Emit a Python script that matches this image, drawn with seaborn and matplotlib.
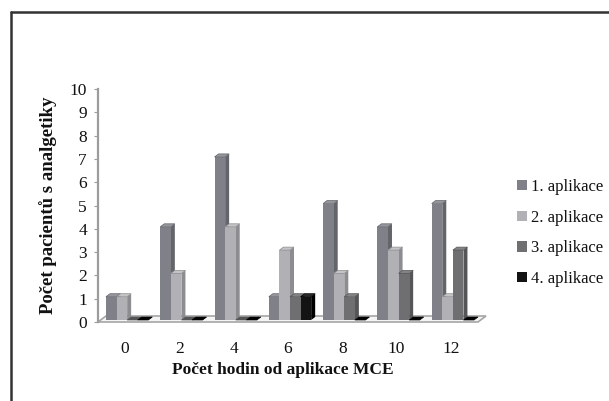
import numpy as np
import pandas as pd
import seaborn as sns
import matplotlib.pyplot as plt
from matplotlib.patches import Polygon, Patch
from matplotlib.lines import Line2D

hours = ['0', '2', '4', '6', '8', '10', '12']
series_names = ['1. aplikace', '2. aplikace', '3. aplikace', '4. aplikace']
app1 = [1, 4, 7, 1, 5, 4, 5]
app2 = [1, 2, 4, 3, 2, 3, 1]
app3 = [0, 0, 0, 1, 1, 2, 3]
app4 = [0, 0, 0, 1, 0, 0, 0]

front_colors = ['#808188', '#b1b1b5', '#6f6f72', '#131313']
side_colors = ['#64656b', '#8d8d91', '#555557', '#000000']
top_colors = ['#95969c', '#c4c4c7', '#838386', '#2a2a2a']

df = pd.DataFrame({
    'hodiny': hours * 4,
    'serie': np.repeat(series_names, len(hours)),
    'pocet': app1 + app2 + app3 + app4,
})

sns.set_theme(style='white')
plt.rcParams['font.family'] = ['Liberation Serif', 'DejaVu Serif']

fig = plt.figure(figsize=(6.09, 4.01), dpi=100)
ax = fig.add_axes([98 / 609, 1 - 322 / 401, 380 / 609, 233 / 401])

sns.barplot(data=df, x='hodiny', y='pocet', hue='serie', order=hours,
            hue_order=series_names, palette=front_colors, saturation=1,
            width=0.78, gap=0, legend=False, ax=ax, linewidth=0)

ax.set_xlim(-0.5, 6.5)
ax.set_ylim(0, 10)
ax.set_yticks(range(0, 11))

# pixel -> data units
p0 = ax.transData.transform((0, 0))
p1 = ax.transData.transform((1, 1))
ux = 1 / (p1[0] - p0[0])
uy = 1 / (p1[1] - p0[1])

# floor of the 3D chart
fdx, fdy = 8 * ux, 6 * uy
floor = Polygon([(-0.5, 0), (6.5, 0), (6.5 + fdx, fdy), (-0.5 + fdx, fdy)],
                closed=True, facecolor='#f4f4f4', edgecolor='#a5a5a5',
                linewidth=1.2, zorder=1, clip_on=False)
ax.add_patch(floor)

# 3D faces of the bars
bdx, bdy = 4 * ux, 3 * uy
sx, sy = 2 * ux, 2 * uy
n = len(hours)
for i, bar in enumerate(ax.patches[:4 * n]):
    k = i // n
    x0 = bar.get_x() + sx
    w = bar.get_width()
    h = bar.get_height()
    bar.set_x(x0)
    bar.set_y(sy)
    bar.set_zorder(2 + k * 0.1 + 0.05)
    bar.set_clip_on(False)
    top = sy + h
    side = Polygon([(x0 + w, sy), (x0 + w + bdx, sy + bdy),
                    (x0 + w + bdx, top + bdy), (x0 + w, top)],
                   closed=True, facecolor=side_colors[k], edgecolor='none',
                   zorder=2 + k * 0.1, clip_on=False)
    cap = Polygon([(x0, top), (x0 + bdx, top + bdy),
                   (x0 + w + bdx, top + bdy), (x0 + w, top)],
                  closed=True, facecolor=top_colors[k] if h > 0 else side_colors[k],
                  edgecolor=side_colors[k], linewidth=0.5,
                  zorder=2 + k * 0.1 + 0.06, clip_on=False)
    ax.add_patch(side)
    ax.add_patch(cap)

for s in ['top', 'right', 'bottom']:
    ax.spines[s].set_visible(False)
ax.spines['left'].set_color('#9c9c9c')
ax.spines['left'].set_linewidth(1.6)
ax.tick_params(axis='y', left=True, length=3, width=0.8, color='#9c9c9c',
               pad=5, labelsize=12.5, labelcolor='#111111')
ax.tick_params(axis='x', bottom=False, length=0, pad=14, labelsize=12.5,
               labelcolor='#111111')

ax.set_xlabel('Počet hodin od aplikace MCE', fontsize=12.5, fontweight='bold',
              color='#111111')
ax.set_ylabel('Počet pacientů s analgetiky', fontsize=13.5, fontweight='bold',
              color='#111111')
ax.xaxis.set_label_coords(0.487, -0.17)
ax.yaxis.set_label_coords(-0.108, 0.5)

handles = [Patch(facecolor=c, edgecolor='none') for c in front_colors]
fig.legend(handles, series_names, loc='center left',
           bbox_to_anchor=(517 / 609, 1 - 233 / 401), frameon=False,
           fontsize=12, handlelength=0.6, handleheight=0.6,
           handletextpad=0.25, labelspacing=0.88, borderpad=0,
           borderaxespad=0, labelcolor='#111111')

# outer frame (cropped on right and bottom)
fig.add_artist(Line2D([11 / 609, 11 / 609], [-0.05, 1 - 12 / 401],
                      transform=fig.transFigure, color='#333333', linewidth=1.8))
fig.add_artist(Line2D([11 / 609, 1.05], [1 - 12 / 401, 1 - 12 / 401],
                      transform=fig.transFigure, color='#333333', linewidth=1.8))

fig.savefig('out.png', dpi=100)
